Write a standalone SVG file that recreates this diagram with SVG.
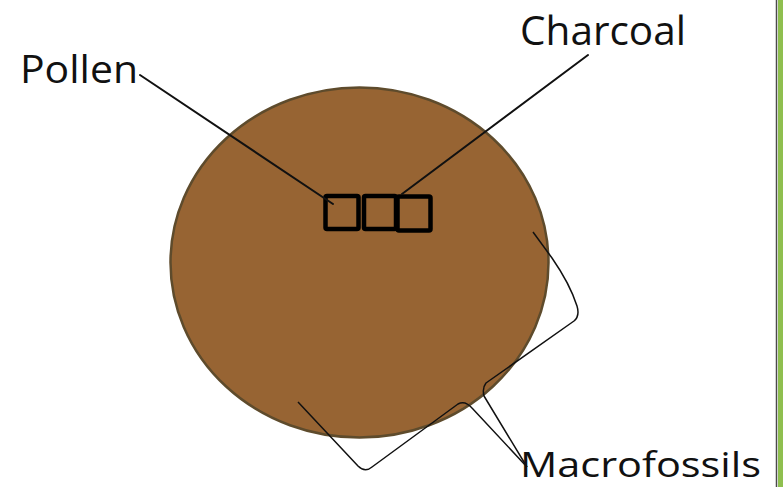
<svg xmlns="http://www.w3.org/2000/svg" width="783" height="487" viewBox="0 0 783 487">
  <style>
    .lbl { font-family: "Open Sans", "Noto Sans", sans-serif; fill: #111; }
    .conn { fill: none; stroke: #111; stroke-width: 2; stroke-linecap: round; stroke-linejoin: round; }
    .brace { fill: none; stroke: #111; stroke-width: 1.5; stroke-linejoin: round; }
    .sq { fill: none; stroke: #000; stroke-width: 4.5; }
  </style>
  <rect x="0" y="0" width="783" height="487" fill="#ffffff"/>
  <g id="side-bar">
    <rect x="778" y="0" width="5" height="487" fill="#8fbf4f"/>
    <line x1="776.5" y1="0" x2="776.5" y2="487" stroke="#4a4a4a" stroke-width="1.5"/>
  </g>
  <g id="sediment">
    <ellipse cx="359.5" cy="262.5" rx="189" ry="175" fill="#976433" stroke="#5e4b2c" stroke-width="2.5"/>
  </g>
  <g id="samples">
    <rect class="sq" x="325.5" y="196" width="33" height="33" rx="1.5"/>
    <rect class="sq" x="364" y="196" width="32" height="33" rx="1.5"/>
    <rect class="sq" x="397.5" y="196.5" width="33" height="34" rx="1.5"/>
  </g>
  <g id="connectors">
    <line class="conn" x1="140" y1="75" x2="333" y2="204"/>
    <line class="conn" x1="588" y1="55" x2="402" y2="194"/>
    <path class="brace" d="M298,402 L358,466 Q365,473 372,467 L458,404 Q465,400 472,408 L527,467"/>
    <path class="brace" d="M533,232 L552,258 Q570,284 577,306 Q580,316 574,321 L486,383 Q482,388 484,396 L527,467"/>
  </g>
  <g id="label-pollen">
    <text class="lbl" x="20" y="83" font-size="39" textLength="118" lengthAdjust="spacingAndGlyphs">Pollen</text>
  </g>
  <g id="label-charcoal">
    <text class="lbl" x="520" y="45" font-size="40" textLength="166" lengthAdjust="spacingAndGlyphs">Charcoal</text>
  </g>
  <g id="label-macrofossils">
    <text class="lbl" x="520" y="477" font-size="34" textLength="241" lengthAdjust="spacingAndGlyphs">Macrofossils</text>
  </g>
</svg>
